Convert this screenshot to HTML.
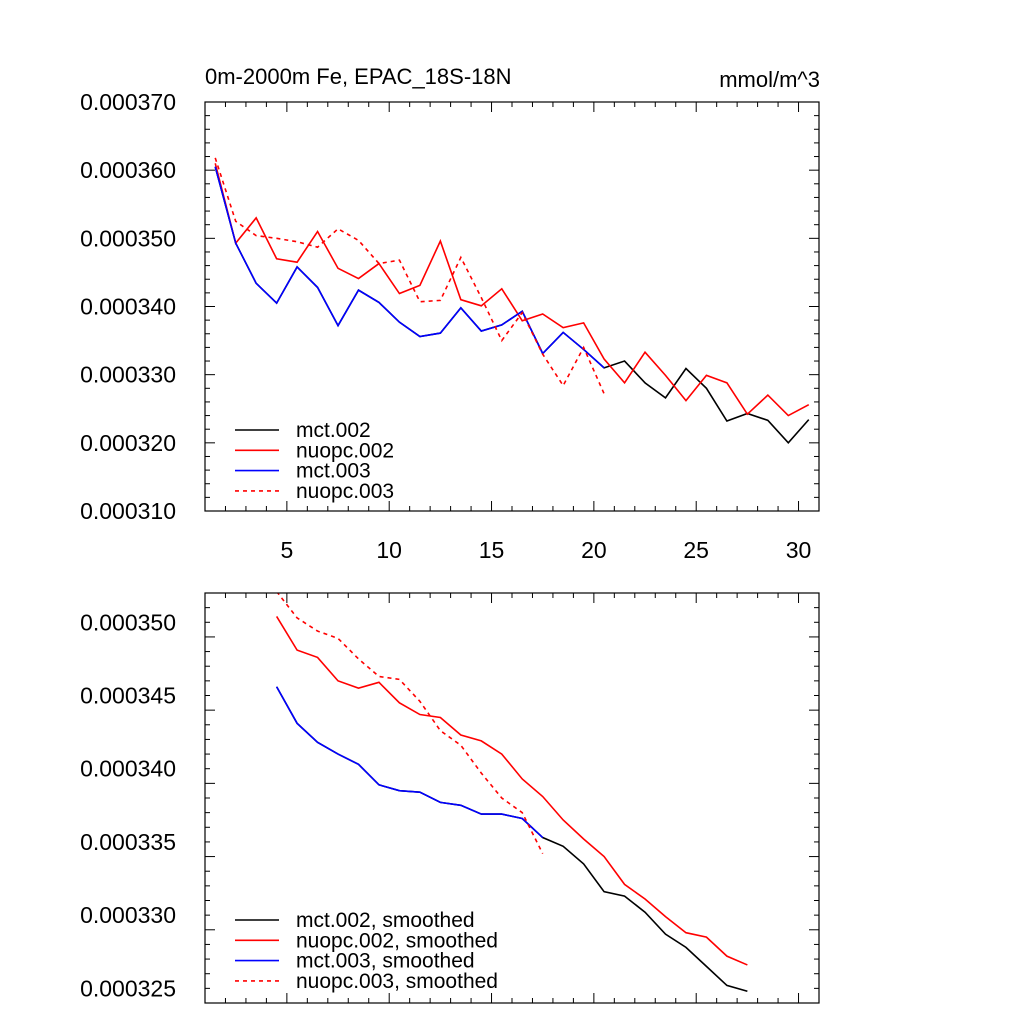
<!DOCTYPE html>
<html><head><meta charset="utf-8"><style>
body{margin:0;background:#fff}
svg text{font-family:"Liberation Sans",Arial,sans-serif;fill:#000}
</style></head><body>
<svg id="c" width="1024" height="1024" xmlns="http://www.w3.org/2000/svg"></svg>
<script>
const xs = [1.5,2.5,3.5,4.5,5.5,6.5,7.5,8.5,9.5,10.5,11.5,12.5,13.5,14.5,15.5,16.5,17.5,18.5,19.5,20.5,21.5,22.5,23.5,24.5,25.5,26.5,27.5,28.5,29.5,30.5];
const mct002 = [360.5,349.3,343.4,340.5,345.8,342.8,337.2,342.4,340.6,337.7,335.6,336.1,339.8,336.4,337.3,339.3,333.1,336.2,333.7,331.0,332.0,328.8,326.6,330.9,328.0,323.2,324.3,323.3,320.0,323.4];
const nuopc002 = [361.0,349.3,353.0,347.0,346.5,351.0,345.6,344.1,346.3,341.9,343.1,349.6,341.0,340.1,342.6,337.9,338.9,336.9,337.6,332.3,328.8,333.3,329.9,326.2,329.9,328.8,324.2,327.0,324.0,325.6];
const mct003 = [360.5,349.3,343.4,340.5,345.8,342.8,337.2,342.4,340.6,337.7,335.6,336.1,339.8,336.4,337.3,339.3,333.1,336.2,333.7,331.0];
const nuopc003 = [361.8,352.5,350.4,350.0,349.5,348.7,351.4,349.7,346.3,346.8,340.7,340.9,347.2,341.3,335.0,339.1,333.0,328.4,334.0,327.2];
const xsS = [4.5,5.5,6.5,7.5,8.5,9.5,10.5,11.5,12.5,13.5,14.5,15.5,16.5,17.5,18.5,19.5,20.5,21.5,22.5,23.5,24.5,25.5,26.5,27.5];
const mct002S = [345.6,343.1,341.8,341.0,340.3,338.9,338.5,338.4,337.7,337.5,336.9,336.9,336.6,335.3,334.7,333.5,331.6,331.3,330.2,328.7,327.8,326.5,325.2,324.8];
const nuopc002S = [350.4,348.1,347.6,346.0,345.5,345.9,344.5,343.7,343.5,342.3,341.9,341.0,339.3,338.1,336.5,335.2,334.0,332.1,331.1,329.9,328.8,328.5,327.2,326.6];
const mct003S = [345.6,343.1,341.8,341.0,340.3,338.9,338.5,338.4,337.7,337.5,336.9,336.9,336.6,335.3];
const nuopc003S = [352.1,350.3,349.4,348.9,347.5,346.3,346.1,344.6,342.6,341.6,339.7,338.0,337.0,334.2];
const topTicks = ["0.000310","0.000320","0.000330","0.000340","0.000350","0.000360","0.000370"];
const botTicks = ["0.000325","0.000330","0.000335","0.000340","0.000345","0.000350"];
const xTicks = [5,10,15,20,25,30];
const legTop = ["mct.002","nuopc.002","mct.003","nuopc.003"];
const legBot = ["mct.002, smoothed","nuopc.002, smoothed","mct.003, smoothed","nuopc.003, smoothed"];

const svg=document.getElementById('c');const NS='http://www.w3.org/2000/svg';
function mk(t,a,p){const e=document.createElementNS(NS,t);for(const k in a)e.setAttribute(k,a[k]);(p||svg).appendChild(e);return e;}
const L=205,R=819;
const X=v=>L+(v-1)*(R-L)/30;
function panel(name,top,bot,ymin,ymax,major,minor,ticks,showX,series,leg,legY){
  const g=mk('g',{});
  
  
  const Y=v=>bot-(v-ymin)*(bot-top)/(ymax-ymin);
  const clipId='clip'+name;
  const cp=mk('clipPath',{id:clipId},g);mk('rect',{x:L,y:top,width:R-L,height:bot-top},cp);
  const sg=mk('g',{'clip-path':'url(#'+clipId+')'},g);
  series.forEach(s=>{
    const p=mk('polyline',{points:s.y.map((v,i)=>X(s.x[i])+','+Y(v)).join(' '),fill:'none',stroke:s.c,'stroke-width':1.6,'stroke-dasharray':s.d?'4,4':'none'},sg);
    
    
  });
  mk('rect',{x:L,y:top,width:R-L,height:bot-top,fill:'none',stroke:'#000','stroke-width':1.2},g);
  for(let v=ymin;v<=ymax+1e-9;v+=minor){
    const isM=Math.abs((v-ymin)/major-Math.round((v-ymin)/major))<1e-6;const len=isM?10:5;const y=Y(v);
    mk('line',{x1:L,x2:L+len,y1:y,y2:y,stroke:'#000','stroke-width':1},g);
    mk('line',{x1:R,x2:R-len,y1:y,y2:y,stroke:'#000','stroke-width':1},g);
  }
  ticks.forEach(t=>{const v=parseFloat(t)*1e6;const tx=mk('text',{x:176,y:Y(v)+8,'text-anchor':'end','font-size':23},g);tx.textContent=t;
    });
  for(let v=1;v<=31;v++){
    const len=v%5===0?10:5;
    mk('line',{x1:X(v),x2:X(v),y1:bot,y2:bot-len,stroke:'#000','stroke-width':1},g);
    mk('line',{x1:X(v),x2:X(v),y1:top,y2:top+len,stroke:'#000','stroke-width':1},g);
  }
  if(showX)xTicks.forEach(v=>{const tx=mk('text',{x:X(v),y:bot+47,'text-anchor':'middle','font-size':23},g);tx.textContent=v;
    });
  leg.forEach((t,i)=>{const y=legY+i*20.3;const s=series[i];
    const lg=mk('g',{},g);
    
    
    mk('line',{x1:235,x2:279,y1:y,y2:y,stroke:s.c,'stroke-width':1.6,'stroke-dasharray':s.d?'4,4':'none'},lg);
    const tx=mk('text',{x:296,y:y+7,'font-size':21},lg);tx.textContent=t;});
}
panel('top-panel',102,511,310,370,10,2,topTicks,true,[
 {n:'mct002',x:xs,y:mct002,c:'#000'},{n:'nuopc002',x:xs,y:nuopc002,c:'#f00'},
 {n:'mct003',x:xs,y:mct003,c:'#00f'},{n:'nuopc003',x:xs,y:nuopc003,c:'#f00',d:1}],legTop,430);
panel('bottom-panel',593,1003,324,352,5,1,botTicks,false,[
 {n:'mct002-smoothed',x:xsS,y:mct002S,c:'#000'},{n:'nuopc002-smoothed',x:xsS,y:nuopc002S,c:'#f00'},
 {n:'mct003-smoothed',x:xsS,y:mct003S,c:'#00f'},{n:'nuopc003-smoothed',x:xsS,y:nuopc003S,c:'#f00',d:1}],legBot,920);
let t=mk('text',{x:205,y:84,'font-size':22});t.textContent='0m-2000m Fe, EPAC_18S-18N';

t=mk('text',{x:820,y:87,'font-size':22,'text-anchor':'end'});t.textContent='mmol/m^3';

</script>
</body></html>
